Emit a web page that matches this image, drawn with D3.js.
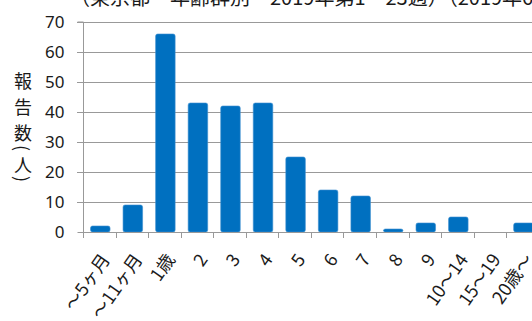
<!DOCTYPE html>
<html><head><meta charset="utf-8">
<script src="https://cdn.jsdelivr.net/npm/d3@7"></script>
<style>
html,body{margin:0;padding:0;background:#fff;overflow:hidden}
text{font-family:"Noto Sans CJK JP","Noto Sans",sans-serif;fill:#1a1a1a}
</style></head><body>
<script>
const categories = ["～5ヶ月","～11ヶ月","1歳","2","3","4","5","6","7","8","9","10～14","15～19","20歳～"];
const values = [2, 9, 66, 43, 42, 43, 25, 14, 12, 1, 3, 5, 0, 3];
const yTicks = [0, 10, 20, 30, 40, 50, 60, 70];
const yLabelChars = ["報","告","数","(","人",")"];
const titleText = "（東京都　年齢群別　2019年第1～23週）（2019年6月）";

const W = 532, H = 321;
const svg = d3.select("body").append("svg").attr("width", W).attr("height", H);

const x0 = 84, step = 32.55;
const x = d3.scaleBand().domain(categories).range([x0, x0 + step * categories.length])
  .paddingInner(0.4).paddingOuter(0.2);
const y = d3.scaleLinear().domain([0, 70]).range([232, 22]);

// title (cut off at top)
svg.append("text").attr("x", 70).attr("y", 5).attr("font-size", 20).text(titleText);

// gridlines
svg.append("g").selectAll("line").data(yTicks.filter(d => d > 0)).join("line")
  .attr("x1", 77).attr("x2", W).attr("y1", d => Math.round(y(d)) + 0.5).attr("y2", d => Math.round(y(d)) + 0.5)
  .attr("stroke", "#999").attr("stroke-width", 1);

// y axis
const yAxis = d3.axisLeft(y).tickValues(yTicks).tickSize(6).tickPadding(13);
const gy = svg.append("g").attr("transform", `translate(${x0 - 0.5},0)`).call(yAxis);
gy.select(".domain").attr("stroke", "#999").attr("d", `M-6,${y(70)}H0V${y(0)}`);
gy.selectAll(".tick line").attr("stroke", "#999");
gy.selectAll(".tick text").attr("font-size", 17).attr("fill", "#1a1a1a")
  .style("font-family", "'Noto Sans','DejaVu Sans',sans-serif");

// bars
svg.append("g").selectAll("rect").data(values).join("rect")
  .attr("x", (d, i) => x(categories[i]))
  .attr("width", x.bandwidth())
  .attr("y", d => y(d))
  .attr("height", d => y(0) - y(d))
  .attr("rx", 2)
  .attr("fill", "#0070C0")
  .attr("stroke", "#3d8fd0").attr("stroke-width", 0.6);

// x axis
const xAxis = d3.axisBottom(x).tickSize(0).tickFormat("");
const gx = svg.append("g").attr("transform", `translate(0,${Math.round(y(0)) + 0.5})`).call(xAxis);
gx.select(".domain").attr("stroke", "#999").attr("d", `M${x0},0H${W + 20}`);
// boundary ticks
svg.append("g").selectAll("line").data(d3.range(categories.length + 1)).join("line")
  .attr("x1", i => Math.round(x0 + i * step) - 0.5).attr("x2", i => Math.round(x0 + i * step) - 0.5)
  .attr("y1", 232).attr("y2", 238).attr("stroke", "#999");

// x labels
svg.append("g").selectAll("text").data(categories).join("text")
  .attr("transform", d => `translate(${x(d) + x.bandwidth() / 2 + 4},255) rotate(-55)`)
  .attr("text-anchor", "end").attr("dominant-baseline", "central")
  .attr("font-size", 18).text(d => d);

// y title (vertical)
const yPos = [80, 106, 132, 148, 164, 179];
svg.append("g").selectAll("text").data(yLabelChars).join("text")
  .attr("transform", (d, i) => `translate(23,${yPos[i]})` + ((d === "(" || d === ")") ? " rotate(90)" : ""))
  .attr("text-anchor", "middle").attr("dominant-baseline", "central")
  .attr("font-size", 18).text(d => d);
</script>
</body></html>
